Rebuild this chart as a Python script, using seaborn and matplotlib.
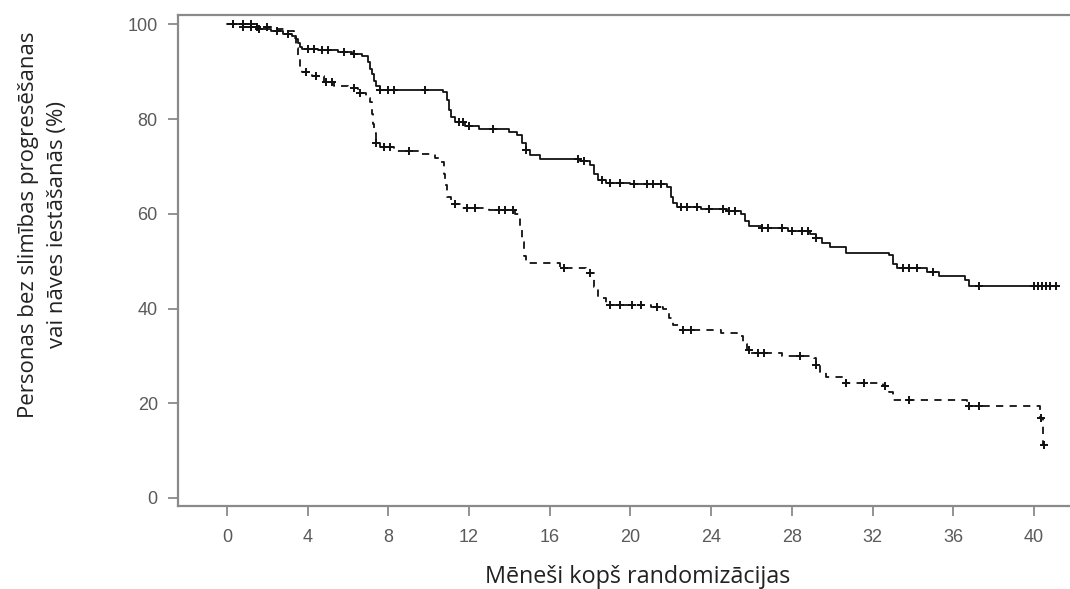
import numpy as np
import pandas as pd
import matplotlib
matplotlib.use("Agg")
import matplotlib.pyplot as plt
import seaborn as sns

# ---- data ----
solid_times = [0, 0.8, 1.5, 2.2, 2.8, 3.2, 3.4, 3.5, 3.6, 3.7, 4.5, 5.5, 6.2, 6.7, 7.0, 7.1, 7.2, 7.3, 7.4, 7.6,
               10.7, 10.9, 11.0, 11.1, 11.3, 11.8, 12.5, 14.0, 14.4, 14.6, 14.8, 15.0, 15.5, 17.5, 18.0, 18.2,
               18.4, 18.8, 20.0, 21.8, 22.0, 22.1, 22.3, 23.5, 24.8, 25.5, 25.7, 25.9, 26.5, 27.8, 28.9, 29.2,
               29.5, 29.9, 30.7, 32.8, 33.0, 33.2, 34.7, 35.3, 36.6, 36.8]
solid_surv = [100, 99.5, 99, 98.5, 98, 97.5, 96.8, 96, 95.2, 94.8, 94.6, 94.2, 93.8, 93.2, 92.0, 90.5, 89.5, 88.0,
              87.0, 86.2, 85.8, 84, 82, 80.5, 79.4, 78.6, 78.0, 77.3, 76.6, 75, 73.5, 72.5, 71.6, 71.2, 70.2,
              68.5, 67.2, 66.6, 66.2, 65.7, 63.5, 62.2, 61.4, 61.0, 60.6, 60.0, 58.5, 57.4, 57.0, 56.4, 55.8,
              54.8, 53.8, 53.0, 51.7, 51.2, 49.5, 48.6, 47.8, 46.8, 46.0, 44.7]
solid_censor = [0.3, 0.8, 1.2, 1.6, 2.5, 3.0, 4.0, 4.3, 4.7, 5.0, 5.8, 6.3, 7.6, 8.0, 8.3, 9.8, 11.5, 11.7, 12.0,
                13.2, 14.8, 17.4, 17.7, 18.6, 19.0, 19.5, 20.2, 20.8, 21.1, 21.5, 22.5, 22.8, 23.3, 23.9, 24.6,
                24.9, 25.2, 26.5, 26.8, 27.5, 28.0, 28.5, 28.8, 29.2, 33.5, 33.8, 34.2, 35.0, 37.3, 40.0, 40.2,
                40.4, 40.6, 40.8, 41.1]

dashed_times = [0, 1.5, 2.5, 3.0, 3.3, 3.4, 3.5, 3.6, 3.7, 4.2, 4.8, 5.3, 6.0, 6.5, 6.9, 7.1, 7.2, 7.25, 7.3, 7.4,
                7.6, 8.3, 9.5, 10.3, 10.6, 10.75, 10.8, 10.9, 11.1, 11.6, 13.0, 14.3, 14.5, 14.6, 14.7, 14.8,
                16.5, 17.8, 18.2, 18.4, 18.8, 21.0, 21.6, 21.9, 22.1, 22.4, 24.5, 25.3, 25.6, 25.8, 26.0, 27.5,
                29.1, 29.2, 29.4, 29.7, 30.7, 32.5, 32.8, 33.0, 36.7, 40.3, 40.45]
dashed_surv = [100, 99.5, 99, 98.5, 97, 95, 93, 91, 90, 89, 87.8, 87, 86.5, 85.5, 84.5, 83.5, 81, 79, 77, 75, 74,
               73.2, 72.6, 71.8, 71, 68.5, 66, 63.5, 62, 61.2, 60.8, 60.0, 57, 54, 51, 49.6, 48.5, 47.4, 44.5,
               42.2, 40.8, 40.4, 39.8, 38, 36.5, 35.5, 34.8, 34.2, 32.5, 31.2, 30.6, 30.0, 29.5, 28, 26.5, 25.5,
               24.3, 23.6, 22.3, 20.7, 19.4, 16.9, 11.2]
dashed_censor = [0.3, 0.8, 1.2, 1.5, 2.0, 3.9, 4.4, 4.9, 5.2, 6.3, 6.6, 7.4, 7.8, 8.1, 9.0, 11.3, 11.9, 12.3, 13.5,
                 13.8, 14.2, 16.7, 18.0, 19.0, 19.5, 20.1, 20.5, 21.3, 22.6, 23.0, 25.9, 26.3, 26.6, 28.4, 29.2,
                 30.7, 31.6, 32.6, 33.8, 36.8, 37.3, 40.35, 40.5]

x_ticks = [0, 4, 8, 12, 16, 20, 24, 28, 32, 36, 40]
y_ticks = [0, 20, 40, 60, 80, 100]
x_label = "Mēneši kopš randomizācijas"
y_label = "Personas bez slimības progresēšanas\nvai nāves iestāšanās (%)"


def step_frame(times, surv, censor):
    t = list(times) + [max(censor)]
    s = list(surv) + [surv[-1]]
    return pd.DataFrame({"t": t, "s": s})


def censor_frame(times, surv, censor):
    times = np.asarray(times)
    surv = np.asarray(surv)
    idx = np.searchsorted(times, np.asarray(censor), side="right") - 1
    return pd.DataFrame({"t": censor, "s": surv[idx]})


sns.set_theme(style="white")
plt.rcParams["font.family"] = ["Liberation Sans", "DejaVu Sans"]

fig = plt.figure(figsize=(10.7, 5.89), dpi=100)
L, B, T = 178 / 1070, 83 / 589, 15 / 589
ax = fig.add_axes([L, B, 1 - L, 1 - B - T])

sol = step_frame(solid_times, solid_surv, solid_censor)
das = step_frame(dashed_times, dashed_surv, dashed_censor)
sns.lineplot(data=sol, x="t", y="s", ax=ax, color="#111111", lw=1.3, drawstyle="steps-post",
             estimator=None, sort=False)
sns.lineplot(data=das, x="t", y="s", ax=ax, color="#111111", lw=1.3, drawstyle="steps-post",
             estimator=None, sort=False, linestyle=(0, (4, 3.5)))

sc = censor_frame(solid_times, solid_surv, solid_censor)
dc = censor_frame(dashed_times, dashed_surv, dashed_censor)
for d in (sc, dc):
    sns.scatterplot(data=d, x="t", y="s", ax=ax, marker="+", s=28, color="#111111", linewidth=1.4, zorder=3)

ax.set_xlim(-2.43, 41.79)
ax.set_ylim(-1.69, 101.96)
ax.set_xticks(x_ticks)
ax.set_yticks(y_ticks)
ax.set_xlabel("")
ax.set_ylabel("")

spine_c = "#8a8a8a"
for side in ("left", "bottom", "top"):
    ax.spines[side].set_color(spine_c)
    ax.spines[side].set_linewidth(1.6)
ax.spines["right"].set_visible(False)

ax.tick_params(axis="both", which="major", length=7.5, width=1.3, color=spine_c,
               labelcolor="#5a5a5a", labelsize=13, direction="out")
ax.tick_params(axis="x", pad=9)
ax.tick_params(axis="y", pad=7)
ax.xaxis.set_ticks_position("bottom")
ax.yaxis.set_ticks_position("left")

fig.text(638 / 1070, 1 - 577 / 589, x_label, ha="center", va="center",
         family=["Open Sans", "DejaVu Sans"], fontsize=16.8, color="#222222")
fig.text(43 / 1070, 1 - 225 / 589, y_label, ha="center", va="center", rotation=90,
         family=["Open Sans", "DejaVu Sans"], fontsize=16.0, color="#222222", linespacing=1.5,
         multialignment="center")

fig.savefig("out.png", dpi=100)
